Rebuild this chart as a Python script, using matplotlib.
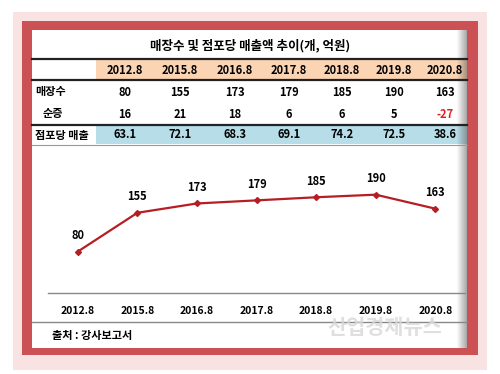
import matplotlib.pyplot as plt
import matplotlib.patches as mpatches
import numpy as np

plt.rcParams['font.family'] = ['Noto Sans CJK KR', 'DejaVu Sans']

# data
periods = ['2012.8', '2015.8', '2016.8', '2017.8', '2018.8', '2019.8', '2020.8']
stores = [80, 155, 173, 179, 185, 190, 163]
net_change = [16, 21, 18, 6, 6, 5, -27]
sales_per_store = [63.1, 72.1, 68.3, 69.1, 74.2, 72.5, 38.6]

title = '매장수 및 점포당 매출액 추이(개, 억원)'
row_labels = ['매장수', '순증', '점포당 매출']
source = '출처 : 강사보고서'
watermark = '산업경제뉴스'

W, H = 500, 374
fig = plt.figure(figsize=(W / 100, H / 100), dpi=100)
fig.patch.set_facecolor('white')


def fx(x):
    return x / W


def fy(y):
    return 1 - y / H


def rect(x0, y0, x1, y1, **kw):
    fig.patches.append(mpatches.Rectangle((fx(x0), fy(y1)), fx(x1 - x0), (y1 - y0) / H,
                                          transform=fig.transFigure, **kw))


def hline(x0, x1, y, **kw):
    fig.lines.append(plt.Line2D([fx(x0), fx(x1)], [fy(y), fy(y)], transform=fig.transFigure, **kw))


# frames
rect(13, 12, 487, 370, facecolor='#f9e2e2', edgecolor='none', zorder=0)
rect(22, 21, 478, 355, facecolor='#cc5154', edgecolor='none', zorder=1)
rect(32, 30, 467, 348, facecolor='white', edgecolor='none', zorder=2)

# table
col_x = [125, 180, 235, 289, 342, 394, 445]
rect(96, 60, 467, 79, facecolor='#fbd4b4', edgecolor='none', zorder=2)
rect(96, 126, 467, 144, facecolor='#b6dde8', edgecolor='none', zorder=2)
# shadow on the right side
for i, a in enumerate(np.linspace(0.04, 0.5, 10)):
    rect(457 + i, 30, 458 + i, 348, facecolor='#555555', alpha=a, edgecolor='none', zorder=3)
hline(32, 467, 59, color='#222222', lw=1.6, zorder=4)
hline(32, 467, 80, color='#222222', lw=1.6, zorder=4)
hline(32, 467, 125, color='#222222', lw=1.6, zorder=4)
hline(32, 467, 145, color='#999999', lw=0.8, zorder=4)

fig.text(fx(250), fy(46), title, ha='center', va='center', fontsize=9, fontweight='bold', zorder=5)
for x, p in zip(col_x, periods):
    fig.text(fx(x), fy(70), p, ha='center', va='center', fontsize=8, fontweight='bold', zorder=5)
for x, v in zip(col_x, stores):
    fig.text(fx(x), fy(92), str(v), ha='center', va='center', fontsize=8, fontweight='bold', zorder=5)
for x, v in zip(col_x, net_change):
    fig.text(fx(x), fy(114), str(v), ha='center', va='center', fontsize=8, fontweight='bold',
             color='#e02020' if v < 0 else 'black', zorder=5)
for x, v in zip(col_x, sales_per_store):
    fig.text(fx(x), fy(135), f'{v:.1f}', ha='center', va='center', fontsize=8, fontweight='bold', zorder=5)
fig.text(fx(35), fy(92), row_labels[0], ha='left', va='center', fontsize=8, fontweight='bold', zorder=5)
fig.text(fx(43), fy(114), row_labels[1], ha='left', va='center', fontsize=8, fontweight='bold', zorder=5)
fig.text(fx(35), fy(135), row_labels[2], ha='left', va='center', fontsize=8, fontweight='bold', zorder=5)

# line chart
ax = fig.add_axes([fx(48), fy(293), fx(465 - 48), (293 - 160) / H], zorder=6)
ax.patch.set_alpha(0)
x = np.arange(len(periods))
ax.plot(x, stores, color='#b51f24', lw=1.6, marker='D', ms=3, zorder=3)
for xi, v in zip(x, stores):
    ax.annotate(str(v), (xi, v), xytext=(0, 7), textcoords='offset points', ha='center', va='bottom',
                fontsize=8, fontweight='bold')
ax.set_xlim(-0.5, 6.5)
ax.set_ylim(0, 257)
ax.set_yticks([])
ax.set_xticks(x)
ax.set_xticklabels(periods, fontsize=7.5, fontweight='bold')
ax.tick_params(axis='x', length=0, pad=9)
for s in ['top', 'left', 'right']:
    ax.spines[s].set_visible(False)
ax.spines['bottom'].set_color('#888888')
ax.spines['bottom'].set_linewidth(1.0)

hline(32, 467, 322, color='#888888', lw=1.0, zorder=4)
fig.text(fx(52), fy(335), source, ha='left', va='center', fontsize=8, fontweight='bold', zorder=7)
fig.text(fx(385), fy(327), watermark, ha='center', va='center', fontsize=15, fontweight='bold',
         color='#d8d8d8', alpha=0.8, zorder=8)

fig.savefig('out.png', dpi=100)
